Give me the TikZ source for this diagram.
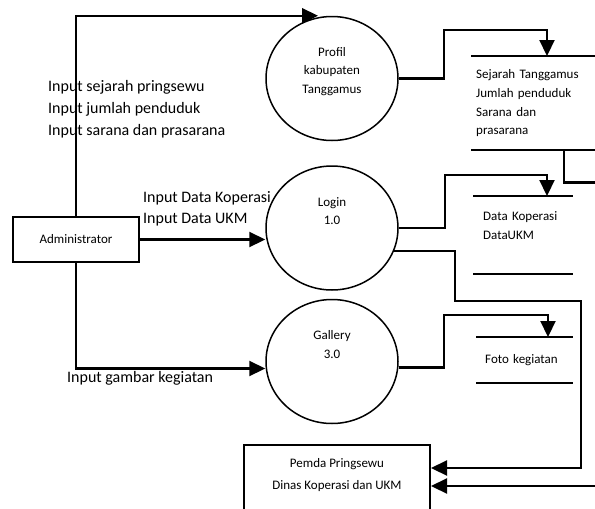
\documentclass[tikz,border=0pt]{standalone}
\usepackage{fontspec}
\setmainfont{Carlito}
\usetikzlibrary{positioning, shapes.geometric, arrows.meta}

\begin{document}
\begin{tikzpicture}[x=1pt, y=-1pt,
    flow/.style={line width=2.2pt, -{Triangle[length=16pt,width=15pt]}},
    sline/.style={line width=2pt},
    proc/.style={draw, ellipse, line width=1.5pt, minimum width=132pt, minimum height=124pt},
    ptxt/.style={align=center, inner sep=0pt, font=\fontsize{13}{18.5}\selectfont},
    ent/.style={draw, rectangle, line width=2pt, font=\fontsize{13}{22}\selectfont},
    store/.style={rectangle, align=left, inner ysep=0pt, anchor=north west, font=\fontsize{13}{18.7}\selectfont},
    lbl/.style={inner sep=0pt, text height=11pt, text depth=4pt, font=\fontsize{16}{19}\selectfont}]

\useasboundingbox (0,0) rectangle (595,509);
\clip (0,0) rectangle (595,509);

% entitas
\node[ent, minimum width=126pt, minimum height=45pt] (adm) at (76,239.5) {Administrator};
\node[ent, minimum width=186pt, minimum height=70pt, anchor=north west] (pemda) at (243,444) {};
\node[ptxt, font=\fontsize{13}{22}\selectfont] (pemdatxt) at ([yshift=5pt]pemda.center) {Pemda Pringsewu\\Dinas Koperasi dan UKM};

% proses
\node[proc] (login) at (332,228) {};
\node[proc, above=24pt of login] (prof) {};
\node[proc, below=8pt of login] (gal) {};
\node[ptxt] (proftxt) at ([yshift=7pt]prof.center) {Profil\\kabupaten\\Tanggamus};
\node[ptxt] (logintxt) at ([yshift=17pt]login.center) {Login\\1.0};
\node[ptxt] (galtxt) at ([yshift=17pt]gal.center) {Gallery\\3.0};

% data store
\node[store, text width=125pt, inner xsep=5pt, minimum height=94pt] (sej) at (471,56)
    {Sejarah Tanggamus\\Jumlah penduduk\\Sarana dan\\prasarana};
\node[store, text width=80pt, inner xsep=10pt, minimum height=78pt] (kop) at (473,196)
    {Data Koperasi\\DataUKM\\~};
\node[store, text width=79pt, inner xsep=9pt, minimum height=46pt] (foto) at (476,337)
    {Foto kegiatan};
\draw[sline] (sej.north west) -- (sej.north east);
\draw[sline] (sej.south west) -- (sej.south east);
\draw[sline] (kop.north west) -- (kop.north east);
\draw[sline] (kop.south west) -- (kop.south east);
\draw[sline] (foto.north west) -- (foto.north east);
\draw[sline] (foto.south west) -- (foto.south east);

% label aliran
\node[lbl, anchor=base west] (in1) at (48,91) {Input sejarah pringsewu};
\node[lbl, below=7pt of in1.south west, anchor=north west] (in2) {Input jumlah penduduk};
\node[lbl, below=7pt of in2.south west, anchor=north west] (in3) {Input sarana dan prasarana};
\node[lbl, anchor=base west] (in4) at (143,202) {Input Data Koperasi};
\node[lbl, below=6pt of in4.south west, anchor=north west] (in5) {Input Data UKM};
\node[lbl, anchor=base west] (in6) at (67,382) {Input gambar kegiatan};

% aliran data
\draw[flow] (adm.north) |- ([xshift=-14pt]prof.north);
\draw[flow] (adm.east) -- (adm.east -| login.west);
\draw[flow] (adm.south) |- ([yshift=-7pt]gal.west);
\draw[flow] (prof.east) -- ++(45,0) |- ([xshift=76pt,yshift=26pt]sej.north west) -- ([xshift=76pt]sej.north west);
\draw[flow] (login.east) -- ++(46,0) |- ([xshift=74pt,yshift=21pt]kop.north west) -- ([xshift=74pt]kop.north west);
\draw[flow] ([yshift=-6pt]gal.east) -- ++(45,0) |- ([xshift=72pt,yshift=22pt]foto.north west) -- ([xshift=72pt]foto.north west);
\draw[flow] (login.-20) -| ++(61,50) -| ([xshift=150pt,yshift=12pt]pemda.east) -- ([yshift=12pt]pemda.east);
\draw[flow] ([xshift=93pt]sej.south west) |- ++(51,32) |- ([yshift=-6pt]pemda.east);
\end{tikzpicture}
\end{document}
